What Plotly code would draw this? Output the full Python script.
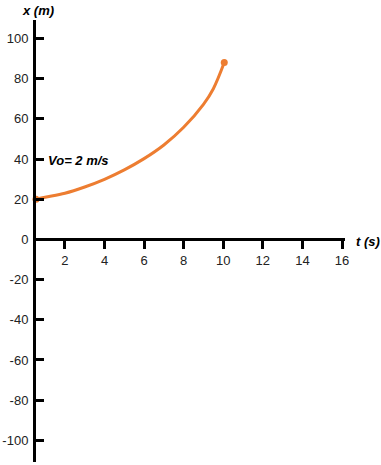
import plotly.graph_objects as go

# Data
t_vals = [0.54, 1, 2, 3, 4, 5, 6, 7, 8, 9, 9.5, 10.05]
x_vals = [20, 21, 23, 26.1, 29.9, 34.6, 40.2, 47, 55.8, 67.2, 75, 88]
x_ticks = [2, 4, 6, 8, 10, 12, 14, 16]
y_ticks = [100, 80, 60, 40, 20, 0, -20, -40, -60, -80, -100]

x_range = [0.54, 16.15]
y_range = [-110.8, 109.2]

orange = "#ED7D31"
font_family = "Liberation Sans, Arial, sans-serif"

fig = go.Figure()
fig.add_trace(go.Scatter(
    x=t_vals, y=x_vals, mode="lines",
    line=dict(color=orange, width=3, shape="spline", smoothing=1.0),
    cliponaxis=False, hoverinfo="skip", showlegend=False,
))
fig.add_trace(go.Scatter(
    x=[t_vals[0], t_vals[-1]], y=[x_vals[0], x_vals[-1]], mode="markers",
    marker=dict(color=orange, size=7),
    cliponaxis=False, hoverinfo="skip", showlegend=False,
))

zero_pos = (0 - y_range[0]) / (y_range[1] - y_range[0])

fig.update_layout(
    width=381, height=465,
    margin=dict(l=36, r=36, t=20, b=3),
    paper_bgcolor="white", plot_bgcolor="white",
    font=dict(family=font_family, size=13, color="black"),
    xaxis=dict(
        range=x_range, anchor="free", position=zero_pos, automargin=False,
        tickmode="array", tickvals=x_ticks, ticktext=[str(v) for v in x_ticks],
        ticks="outside", ticklen=8, tickwidth=3, tickcolor="black",
        showline=True, linewidth=3, linecolor="black",
        showgrid=False, zeroline=False,
        tickfont=dict(size=13, color="#222"),
    ),
    yaxis=dict(
        range=y_range, automargin=False,
        tickmode="array", tickvals=y_ticks, ticktext=[str(v) for v in y_ticks],
        ticks="inside", ticklen=8, tickwidth=3, tickcolor="black",
        showline=True, linewidth=3, linecolor="black",
        showgrid=False, zeroline=False,
        tickfont=dict(size=13, color="#222"),
        ticklabelstandoff=2,
    ),
    annotations=[
        dict(text="<b><i>x (m)</i></b>", xref="paper", yref="paper",
             x=0.006, y=1.022, showarrow=False, xanchor="center", yanchor="middle",
             font=dict(size=13, color="black")),
        dict(text="<b><i>t (s)</i></b>", xref="paper", yref="paper",
             x=1.074, y=0.5, showarrow=False, xanchor="center", yanchor="middle",
             font=dict(size=13, color="black")),
        dict(text="<b><i>Vo= 2 m/s</i></b>", xref="x", yref="y",
             x=2.71, y=39.5, showarrow=False, xanchor="center", yanchor="middle",
             font=dict(size=13, color="black")),
    ],
)

fig.write_html(
    "out.html",
    config={"displayModeBar": False},
    post_script="document.body.style.margin='0';document.body.style.overflow='hidden';",
)
